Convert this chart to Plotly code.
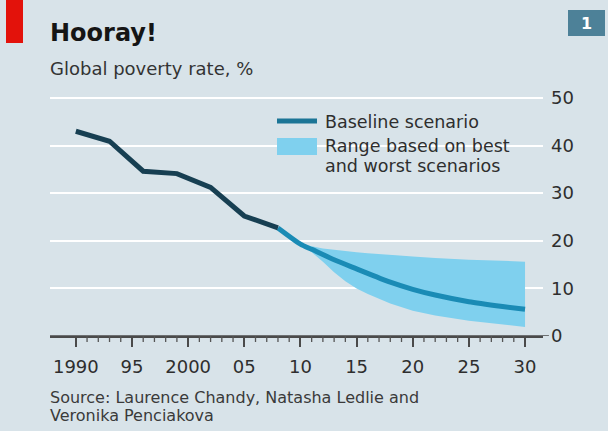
import plotly.graph_objects as go

# Historical global poverty rate, %
hist_years = [1990, 1993, 1996, 1999, 2002, 2005, 2008]
hist_rate = [43.0, 40.9, 34.6, 34.1, 31.2, 25.2, 22.7]

# Baseline projection, %
base_years = [2008, 2010, 2011, 2013, 2015, 2018, 2020, 2022, 2025, 2028, 2030]
base_rate = [22.7, 19.3, 18.2, 16.0, 14.1, 11.3, 9.8, 8.6, 7.2, 6.2, 5.6]

# Best / worst scenario range, %
range_years = [2010, 2011, 2012, 2013, 2014, 2015, 2016, 2018, 2020, 2022, 2025, 2028, 2030]
range_upper = [19.3, 18.8, 18.4, 18.1, 17.8, 17.6, 17.4, 17.0, 16.7, 16.4, 16.0, 15.8, 15.6]
range_lower = [19.3, 17.6, 15.6, 13.4, 11.5, 10.0, 8.8, 6.8, 5.3, 4.3, 3.2, 2.4, 1.9]

x_ticks = [1990, 1995, 2000, 2005, 2010, 2015, 2020, 2025, 2030]
x_tick_text = ["1990", "95", "2000", "05", "10", "15", "20", "25", "30"]
x_minor = [y for y in range(1990, 2031) if y % 5]
y_ticks = [0, 10, 20, 30, 40, 50]

BG = "#d8e3e9"
DARK = "#173f52"
MID = "#1a8bb5"
FILL = "#7fd0ee"
TEXT = "#2e2e2e"
AXIS = "#4a4a4a"
FONT = "DejaVu Sans"

W, H = 608, 431
X_RANGE = [1987.7, 2031.6]

fig = go.Figure()

fig.add_trace(go.Scatter(x=range_years, y=range_lower, mode="lines",
                         line=dict(width=0, color=FILL), hoverinfo="skip",
                         showlegend=False))
fig.add_trace(go.Scatter(x=range_years, y=range_upper, mode="lines",
                         line=dict(width=0, color=FILL), fill="tonexty",
                         fillcolor=FILL, hoverinfo="skip", showlegend=False))
fig.add_trace(go.Scatter(x=base_years, y=base_rate, mode="lines",
                         line=dict(width=5, color=MID, shape="spline", smoothing=0.6),
                         showlegend=False))
fig.add_trace(go.Scatter(x=hist_years, y=hist_rate, mode="lines",
                         line=dict(width=5, color=DARK),
                         showlegend=False))

# plot area in pixels
L, R = 50, 543
T, B = 96, 336

fig.update_layout(
    width=W, height=H,
    paper_bgcolor=BG, plot_bgcolor=BG,
    margin=dict(l=L, r=W - R, t=T, b=H - B, pad=0),
    font=dict(family=FONT, color=TEXT, size=16),
    xaxis=dict(range=X_RANGE, tickmode="array", tickvals=x_ticks,
               ticktext=x_tick_text, showgrid=False, zeroline=False,
               showline=True, linecolor=AXIS, linewidth=1.5,
               ticks="outside", ticklen=9, tickwidth=1.5,
               tickcolor=AXIS, tickfont=dict(size=18, color=TEXT),
               ticklabelstandoff=5, fixedrange=True),
    yaxis=dict(range=[0, 50.4], tickvals=y_ticks, side="right",
               showgrid=True, gridcolor="white", gridwidth=2,
               zeroline=False, showline=False, ticks="",
               ticklabelstandoff=7, tickfont=dict(size=18, color=TEXT),
               fixedrange=True),
    showlegend=False,
)

# zero baseline carried out to the value labels
fig.add_shape(type="line", xref="paper", yref="y", x0=0, x1=1.012, y0=0, y1=0,
              line=dict(color=AXIS, width=1.5), layer="above")


def year_to_paper(yr):
    # linear x axis: position of a year as a fraction of the plot width
    return (yr - X_RANGE[0]) / (X_RANGE[1] - X_RANGE[0])


# yearly minor ticks hanging below the baseline
for yr in x_minor:
    xp = year_to_paper(yr)
    fig.add_shape(type="line", xref="paper", yref="paper", x0=xp, x1=xp,
                  y0=0, y1=-6 / (B - T), layer="above",
                  line=dict(color="#555555", width=1.3))


def px_x(px):
    return (px - L) / (R - L)


def px_y(py):
    return (B - py) / (B - T)


def label(px, py, s, size, color=TEXT, weight="normal"):
    fig.add_annotation(xref="paper", yref="paper", x=px_x(px), y=px_y(py),
                       text=s, showarrow=False, xanchor="left", yanchor="middle",
                       xshift=-2,
                       font=dict(size=size, color=color, family=FONT, weight=weight))


# legend: patch over the gridline, swatches and labels
fig.add_shape(type="rect", xref="paper", yref="paper",
              x0=px_x(270), x1=px_x(524), y0=px_y(178), y1=px_y(110),
              fillcolor=BG, line=dict(width=0), layer="below")
fig.add_shape(type="line", xref="paper", yref="paper",
              x0=px_x(277), x1=px_x(317), y0=px_y(121), y1=px_y(121),
              line=dict(color="#1b7596", width=5))
fig.add_shape(type="rect", xref="paper", yref="paper",
              x0=px_x(277), x1=px_x(317), y0=px_y(155), y1=px_y(138),
              fillcolor=FILL, line=dict(width=0))

label(325, 122, "Baseline scenario", 17.5)
label(325, 146, "Range based on best", 17.5)
label(325, 166, "and worst scenarios", 17.5)

# headings and source
label(50, 33, "Hooray!", 24, color="#151515", weight="bold")
label(50, 68, "Global poverty rate, %", 18, color="#333")
label(50, 397, "Source: Laurence Chandy, Natasha Ledlie and", 16, color="#3a3a3a")
label(50, 415, "Veronika Penciakova", 16, color="#3a3a3a")

# red corner tag and numbered box
fig.add_shape(type="rect", xref="paper", yref="paper",
              x0=px_x(6), x1=px_x(23), y0=px_y(43), y1=px_y(0),
              fillcolor="#e3120b", line=dict(width=0))
fig.add_shape(type="rect", xref="paper", yref="paper",
              x0=px_x(568), x1=px_x(605), y0=px_y(36), y1=px_y(10),
              fillcolor="#4d8198", line=dict(width=0))
fig.add_annotation(xref="paper", yref="paper", x=px_x(586.5), y=px_y(23),
                   text="1", showarrow=False, xanchor="center", yanchor="middle",
                   font=dict(size=16, color="white", family=FONT, weight="bold"))

fig.write_html("out.html")
